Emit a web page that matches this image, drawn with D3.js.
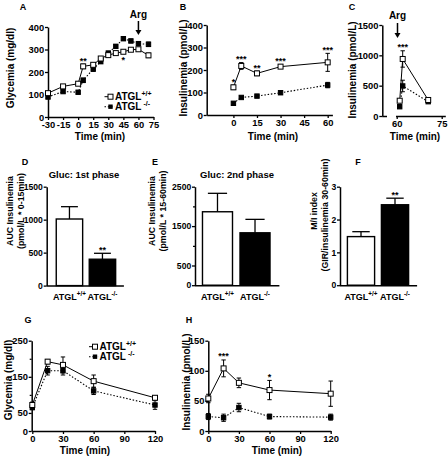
<!DOCTYPE html>
<html><head><meta charset="utf-8">
<script src="https://cdn.jsdelivr.net/npm/d3@7"></script>
<style>body{margin:0;background:#fff}</style>
</head><body>
<script>
// ================= DATA =================
const timeA = [-30,-15,0,5,15,22.5,30,37.5,45,52.5,60,70];
const glyA_WT = [106,136,148,225,232,260,275,284,290,299,301,274];
const glyA_WTerr = [8,6,8,10,8,7,8,7,8,7,8,10];
const glyA_KO = [89,113,110,163,213,246,284,314,348,338,326,323];
const glyA_KOerr = [8,6,6,10,10,8,8,8,8,8,8,10];
const sigA = ["","","","**","","","","","*","","",""];
const yTicksA = [0,100,200,300,400];
const xTicksA = [-30,-15,0,15,30,45,60,75];

const timeB = [0,5,15,30,60];
const insB_WT = [123,218,185,215,234];
const insB_WTerr = [10,15,10,8,40];
const insB_KO = [52,78,84,99,133];
const insB_KOerr = [5,5,6,8,12];
const sigB = ["*","***","**","***","***"];
const yTicksB = [0,100,200,300,400];
const xTicksB = [0,15,30,45,60];

const timeC = [61,62,70.5];
const insC_WT = [252,940,264];
const insC_WTerr = [20,135,20];
const insC_KO = [153,495,236];
const insC_KOerr = [15,95,15];
const sigC = ["","***",""];
const yTicksC = [0,500,1000,1500];
const xTicksC = [60,75];

const groups = ["ATGL+/+","ATGL-/-"];
const groupSup = ["+/+","-/-"];
const aucD = [1010,400];
const aucDerr = [187,90];
const sigD = ["","**"];
const yTicksD = [0,500,1000,1500];

const aucE = [1864,1330];
const aucEerr = [468,341];
const sigE = ["",""];
const yTicksE = [0,500,1500,2500];
const yMinorE = [1000,2000];

const miF = [1.48,2.45];
const miFerr = [0.15,0.2];
const sigF = ["","**"];
const yTicksF = [0,1,2,3];

const timeG = [0,15,30,60,120];
const glyG_WT = [72,192,183,138,92];
const glyG_WTerr = [8,6,22,17,5];
const glyG_KO = [65,167,167,111,72];
const glyG_KOerr = [6,12,12,10,12];
const yTicksG = [0,50,150,250];
const yMinorG = [100,200];
const xTicksG = [0,30,60,90,120];

const insH_WT = [54,104,80,68,62];
const insH_WTerr = [7,14,8,16,21];
const insH_KO = [24,22,39,24,23];
const insH_KOerr = [5,6,7,4,5];
const sigH = ["","***","","*",""];
const yTicksH = [0,50,100,150];

// ================= DRAW =================
const FONT = "'Liberation Sans', Arial, Helvetica, sans-serif";
const svg = d3.select("body").append("svg").attr("width",448).attr("height",459);
svg.append("rect").attr("width",448).attr("height",459).attr("fill","#fff");
const fmt = d => String(d);

function txt(x,y,s,size,anchor){
  return svg.append("text").attr("x",x).attr("y",y).attr("font-size",size)
    .attr("text-anchor",anchor||"middle").attr("font-weight","bold")
    .attr("font-family",FONT).attr("fill","#000").text(s);
}
function ytitle(x,y,s,size){
  svg.append("text").attr("transform",`translate(${x},${y}) rotate(-90)`)
    .attr("dy","0.35em").attr("text-anchor","middle").attr("font-size",size)
    .attr("font-weight","bold").attr("font-family",FONT).text(s);
}
function atgl(x,y,sup,size,anchor){
  const t = svg.append("text").attr("x",x).attr("y",y).attr("font-size",size)
    .attr("text-anchor",anchor||"middle").attr("font-weight","bold").attr("font-family",FONT);
  t.append("tspan").text("ATGL");
  t.append("tspan").attr("dy",-size*0.42).attr("font-size",size*0.7).text(sup);
}
function styleAxis(g,fs){
  g.attr("font-family",FONT).attr("font-size",fs||9.4).attr("font-weight","bold");
  g.select(".domain").attr("stroke","#000").attr("stroke-width",1.5);
  g.selectAll(".tick line").attr("stroke","#000").attr("stroke-width",1.3);
  g.selectAll(".tick text").attr("fill","#000");
}
function axisL(x0,y,vals,minor,fs){
  const g = svg.append("g").attr("transform",`translate(${x0},0)`)
    .call(d3.axisLeft(y).tickValues(vals).tickSize(3).tickPadding(0.8).tickSizeOuter(0).tickFormat(fmt));
  styleAxis(g,fs);
  g.selectAll(".minor").data(minor||[]).enter().append("line").attr("class","minor")
    .attr("x1",-2).attr("x2",0).attr("y1",d=>y(d)+0.5).attr("y2",d=>y(d)+0.5)
    .attr("stroke","#000").attr("stroke-width",1.2);
  return g;
}
function axisB(y0,x,vals){
  const g = svg.append("g").attr("transform",`translate(0,${y0})`)
    .call(d3.axisBottom(x).tickValues(vals).tickSize(3).tickPadding(1.5).tickSizeOuter(0).tickFormat(fmt));
  styleAxis(g);
  return g;
}
function errBars(x,y,t,v,e){
  const g = svg.append("g").attr("stroke","#000").attr("stroke-width",1);
  v.forEach((d,i)=>{
    const cx = x(t[i]), y1 = y(d-e[i]), y2 = y(d+e[i]);
    g.append("line").attr("x1",cx).attr("x2",cx).attr("y1",y1).attr("y2",y2);
    g.append("line").attr("x1",cx-2.2).attr("x2",cx+2.2).attr("y1",y1).attr("y2",y1);
    g.append("line").attr("x1",cx-2.2).attr("x2",cx+2.2).attr("y1",y2).attr("y2",y2);
  });
}
function squares(x,y,t,v,open){
  const s = open ? 5 : 4.4;
  svg.append("g").selectAll("rect").data(v).enter().append("rect")
    .attr("x",(d,i)=>x(t[i])-s/2).attr("y",d=>y(d)-s/2).attr("width",s).attr("height",s)
    .attr("fill",open?"#fff":"#000").attr("stroke","#000").attr("stroke-width",1);
}
function linePanel(x,y,t,wt,wtE,ko,koE){
  const gen = d3.line().x((d,i)=>x(t[i])).y(d=>y(d));
  svg.append("path").attr("d",gen(ko)).attr("fill","none").attr("stroke","#000")
    .attr("stroke-width",1.1).attr("stroke-dasharray","1.5,1.8");
  svg.append("path").attr("d",gen(wt)).attr("fill","none").attr("stroke","#000").attr("stroke-width",1);
  errBars(x,y,t,ko,koE);
  errBars(x,y,t,wt,wtE);
  squares(x,y,t,ko,false);
  squares(x,y,t,wt,true);
}
function stars(x,y,t,wt,wtE,sig,belowIdx){
  sig.forEach((s,i)=>{
    if(!s) return;
    if(belowIdx && belowIdx.includes(i)) txt(x(t[i]), y(wt[i]-wtE[i])+9.5, s, 9);
    else txt(x(t[i]), y(wt[i]+wtE[i])-0.5, s, 9);
  });
}
function arrow(x,y1,y2){
  svg.append("line").attr("x1",x).attr("x2",x).attr("y1",y1).attr("y2",y2-4).attr("stroke","#000").attr("stroke-width",1.5);
  svg.append("path").attr("d",`M${x-3},${y2-5}L${x+3},${y2-5}L${x},${y2}Z`).attr("fill","#000");
}
function legend(x,y,dy,size){
  svg.append("line").attr("x1",x-6).attr("x2",x).attr("y1",y).attr("y2",y).attr("stroke","#000").attr("stroke-width",1);
  svg.append("rect").attr("x",x-2.5).attr("y",y-2.5).attr("width",5).attr("height",5).attr("fill","#fff").attr("stroke","#000");
  atgl(x+4.5,y+3.6,"+/+",size,"start");
  svg.append("line").attr("x1",x-6).attr("x2",x+4).attr("y1",y+dy).attr("y2",y+dy).attr("stroke","#000").attr("stroke-width",1.1).attr("stroke-dasharray","1.5,1.8");
  svg.append("rect").attr("x",x-2.2).attr("y",y+dy-2.2).attr("width",4.4).attr("height",4.4).attr("fill","#000");
  atgl(x+4.5,y+dy+3.6," -/-",size,"start");
}

// ---- Panel A ----
const xA = d3.scaleLinear().domain([-30,75]).range([48,153.5]);
const yA = d3.scaleLinear().domain([0,400]).range([117,27]);
axisL(48,yA,yTicksA); axisB(117,xA,xTicksA);
linePanel(xA,yA,timeA,glyA_WT,glyA_WTerr,glyA_KO,glyA_KOerr);
stars(xA,yA,timeA,glyA_WT,glyA_WTerr,sigA,[8]);
txt(xA(60),18,"Arg",10); arrow(xA(60),21,35);
legend(110.5,96.7,10,10);
ytitle(10,68,"Glycemia (mg/dl)",10);
txt(100,139.5,"Time (min)",10);
txt(23,10,"A",9);

// ---- Panel B ----
const xB = d3.scaleLinear().domain([-17,63]).range([206.7,332.4]);
const yB = d3.scaleLinear().domain([0,400]).range([115,25]);
axisL(206.7,yB,yTicksB); axisB(115,xB,xTicksB);
linePanel(xB,yB,timeB,insB_WT,insB_WTerr,insB_KO,insB_KOerr);
stars(xB,yB,timeB,insB_WT,insB_WTerr,sigB);
ytitle(183,68,"Insulinemia (pmol/L)",10);
txt(273,139.5,"Time (min)",10);
txt(183,10,"B",9);

// ---- Panel C ----
const xC = d3.scaleLinear().domain([60,75]).range([396.7,441.7]);
const yC = d3.scaleLinear().domain([0,1500]).range([116,25]);
axisL(382.3,yC,yTicksC);
const xCax = xC.copy().domain([59.6,76.2]).range([xC(59.6),xC(76.2)]);
axisB(116,xCax,xTicksC);
svg.append("line").attr("x1",382.3).attr("x2",387).attr("y1",116.5).attr("y2",116.5).attr("stroke","#000").attr("stroke-width",1.5);
linePanel(xC,yC,timeC,insC_WT,insC_WTerr,insC_KO,insC_KOerr);
stars(xC,yC,timeC,insC_WT,insC_WTerr,sigC);
txt(397.5,19,"Arg",10); arrow(397.5,23,38);
ytitle(352.5,70,"Insulinemia (pmol/L)",10);
txt(415,139.5,"Time (min)",10);
txt(352,10,"C",9);

// ---- Bar panels ----
function barPanel(x0,range,y,vals,errs,sig,ticks,minor,title,titleX){
  const xb = d3.scaleBand().domain(groups).range(range).paddingInner(0.2).paddingOuter(0.25);
  const bw = xb.bandwidth();
  vals.forEach((v,i)=>{
    const cx = xb(groups[i]) + bw/2, top = y(v+errs[i]);
    svg.append("line").attr("x1",cx).attr("x2",cx).attr("y1",y(v)).attr("y2",top).attr("stroke","#000").attr("stroke-width",1.3);
    svg.append("line").attr("x1",cx-bw*0.32).attr("x2",cx+bw*0.32).attr("y1",top).attr("y2",top).attr("stroke","#000").attr("stroke-width",1.3);
  });
  svg.append("g").selectAll("rect").data(vals).enter().append("rect")
    .attr("x",(d,i)=>xb(groups[i])).attr("width",bw)
    .attr("y",d=>y(d)).attr("height",d=>y(0)-y(d))
    .attr("fill",(d,i)=>i===0?"#fff":"#000").attr("stroke","#000").attr("stroke-width",1.4);
  axisL(x0,y,ticks,minor,8.6);
  svg.append("line").attr("x1",x0).attr("x2",range[1]).attr("y1",y(0)+0.5).attr("y2",y(0)+0.5).attr("stroke","#000").attr("stroke-width",1.5);
  groups.forEach((gname,i)=>{
    const cx = xb(gname)+bw/2;
    atgl(cx,300,groupSup[i],9);
    if(sig[i]) txt(cx,y(vals[i]+errs[i])-0.5,sig[i],9);
  });
  if(title) txt(titleX,178,title,9.5);
}
const yD = d3.scaleLinear().domain([0,1500]).range([285.6,186.7]);
barPanel(46.7,[48,123.9],yD,aucD,aucDerr,sigD,yTicksD,[], "Gluc: 1st phase",84);
ytitle(10,211,"AUC Insulinemia",8.8);
ytitle(21,211,"(pmol/L * 0-15min)",8.8);
txt(25,165,"D",9);

const yE = d3.scaleLinear().domain([0,2500]).range([285.2,186.7]);
barPanel(195,[193.1,279.4],yE,aucE,aucEerr,sigE,yTicksE,yMinorE,"Gluc: 2nd phase",237);
ytitle(152,211,"AUC Insulinemia",8.8);
ytitle(163,211,"(pmol/L * 15-60min)",8.8);
txt(155,165,"E",9);

const yF = d3.scaleLinear().domain([0,3]).range([285.2,186.7]);
barPanel(340,[338.9,417.1],yF,miF,miFerr,sigF,yTicksF,[],"",0);
ytitle(314,211,"M/I index",8.8);
ytitle(325,215,"(GIR/insulinemia 30-60min)",8.8);
txt(358,165,"F",9);

// ---- Panel G ----
const xG = d3.scaleLinear().domain([0,120]).range([32.3,155]);
const yG = d3.scaleLinear().domain([0,250]).range([431,340.7]);
axisL(31.7,yG,yTicksG,yMinorG); axisB(431,xG,xTicksG);
linePanel(xG,yG,timeG,glyG_WT,glyG_WTerr,glyG_KO,glyG_KOerr);
legend(95,346.7,10,10);
ytitle(8,380,"Glycemia (mg/dl)",10);
txt(85,454,"Time (min)",10);
txt(28,323,"G",9);

// ---- Panel H ----
const xH = d3.scaleLinear().domain([0,120]).range([208.3,330.7]);
const yH = d3.scaleLinear().domain([0,150]).range([431,340.7]);
axisL(208.3,yH,yTicksH); axisB(431,xH,xTicksG);
linePanel(xH,yH,timeG,insH_WT,insH_WTerr,insH_KO,insH_KOerr);
stars(xH,yH,timeG,insH_WT,insH_WTerr,sigH);
ytitle(186,382,"Insulinemia (pmol/L)",10);
txt(277,454,"Time (min)",10);
txt(189,323,"H",9);
</script>
</body></html>
